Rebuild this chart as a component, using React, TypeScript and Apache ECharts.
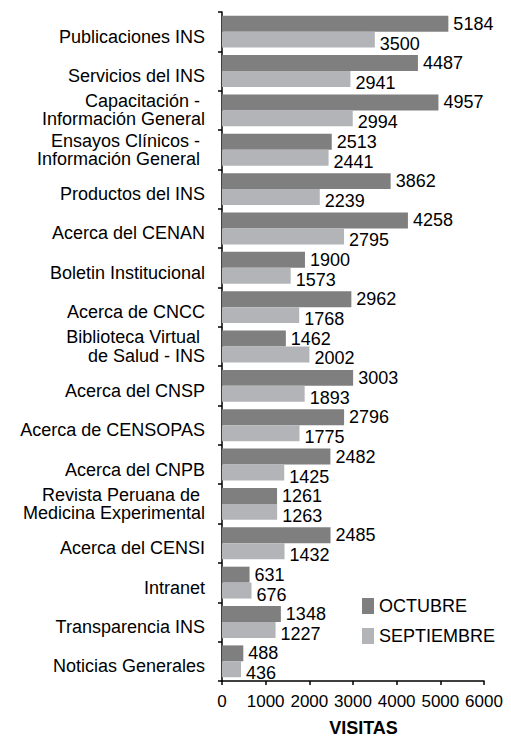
import React, { useEffect, useRef } from "react";
import * as echarts from "echarts";

const categories = [
  "Publicaciones INS",
  "Servicios del INS",
  "Capacitación - \nInformación General",
  "Ensayos Clínicos - \nInformación General ",
  "Productos del INS",
  "Acerca del CENAN",
  "Boletin Institucional",
  "Acerca de CNCC",
  "Biblioteca Virtual \nde Salud - INS",
  "Acerca del CNSP",
  "Acerca de CENSOPAS",
  "Acerca del CNPB",
  "Revista Peruana de \nMedicina Experimental",
  "Acerca del CENSI",
  "Intranet",
  "Transparencia INS",
  "Noticias Generales",
];

const octubre = [5184, 4487, 4957, 2513, 3862, 4258, 1900, 2962, 1462, 3003, 2796, 2482, 1261, 2485, 631, 1348, 488];
const septiembre = [3500, 2941, 2994, 2441, 2239, 2795, 1573, 1768, 2002, 1893, 1775, 1425, 1263, 1432, 676, 1227, 436];

const seriesNames = ["OCTUBRE", "SEPTIEMBRE"];
const xTitle = "VISITAS";

const FONT = "'Liberation Sans', Arial, sans-serif";

function formatCategory(value: string): string {
  const lines = value.split("\n");
  if (lines.length === 1) return `{s|${value}}`;
  const style = value.startsWith("Biblioteca") ? "w" : "t";
  return lines.map((l) => `{${style}|${l}}`).join("\n");
}

export default function App() {
  const ref = useRef<HTMLDivElement>(null);
  useEffect(() => {
    if (!ref.current) return;
    const chart = echarts.init(ref.current, undefined, { renderer: "svg" });
    const base = { fontSize: 18, color: "#000", fontFamily: FONT, align: "right" };
    chart.setOption({
      animation: false,
      backgroundColor: "#ffffff",
      textStyle: { fontFamily: FONT },
      grid: { left: 222, right: 27, top: 12, bottom: 56, containLabel: false },
      legend: {
        orient: "vertical",
        left: 357,
        top: 592,
        itemWidth: 12,
        itemHeight: 16,
        itemGap: 12,
        icon: "rect",
        textStyle: { fontSize: 18, color: "#000", fontFamily: FONT },
        data: seriesNames,
      },
      xAxis: {
        type: "value",
        min: 0,
        max: 6000,
        interval: 1000,
        name: xTitle,
        nameLocation: "middle",
        nameGap: 38,
        nameTextStyle: { fontSize: 18, fontWeight: "bold", color: "#000", fontFamily: FONT, padding: [0, 0, 0, 21] },
        axisLine: { show: true, lineStyle: { color: "#000", width: 1.5 } },
        axisTick: { show: true, length: 4, lineStyle: { color: "#000", width: 1.5 } },
        axisLabel: {
          fontSize: 17,
          color: "#000",
          margin: 12,
          fontFamily: FONT,
          formatter: (v: number) => String(v),
        },
        splitLine: { show: false },
      },
      yAxis: {
        type: "category",
        inverse: true,
        data: categories,
        axisLine: { show: true, lineStyle: { color: "#000", width: 1.5 } },
        axisTick: { show: true, length: 4, alignWithLabel: false, lineStyle: { color: "#000", width: 1.5 } },
        axisLabel: {
          fontSize: 18,
          color: "#000",
          margin: 17,
          align: "right",
          fontFamily: FONT,
          formatter: formatCategory,
          rich: {
            s: { ...base, lineHeight: 18, padding: [10, 0, 0, 0] },
            t: { ...base, lineHeight: 18 },
            w: { ...base, lineHeight: 19 },
          },
        },
      },
      series: [
        {
          name: seriesNames[0],
          type: "bar",
          data: octubre,
          barGap: "0%",
          barCategoryGap: "19%",
          itemStyle: { color: "#7f7f7f" },
          label: { show: true, position: "right", distance: 5, fontSize: 18, color: "#000", fontFamily: FONT },
        },
        {
          name: seriesNames[1],
          type: "bar",
          data: septiembre,
          barGap: "0%",
          barCategoryGap: "19%",
          itemStyle: { color: "#b2b4b7" },
          label: { show: true, position: "right", distance: 5, offset: [0, 4], fontSize: 18, color: "#000", fontFamily: FONT },
        },
      ],
    });
    return () => chart.dispose();
  }, []);
  return (
    <div
      ref={ref}
      style={{ position: "fixed", left: 0, top: 0, width: 511, height: 742, background: "#fff" }}
    />
  );
}
